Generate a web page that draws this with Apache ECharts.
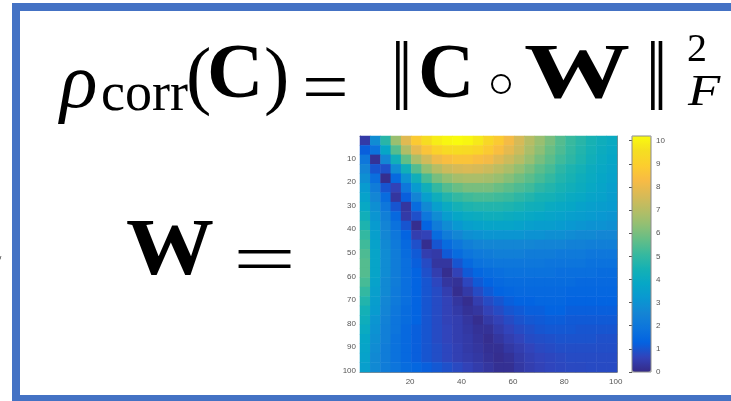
<!DOCTYPE html>
<html><head><meta charset="utf-8">
<script src="https://cdn.jsdelivr.net/npm/echarts@6/dist/echarts.min.js"></script>
<style>html,body{margin:0;padding:0;background:#fff}#c{width:731px;height:401px}</style>
</head><body><div id="c"></div>
<script>
// centres of the sampled cells (matrix index 1..100, 4 per cell)
const colCenters = [2.5,6.5,10.5,14.5,18.5,22.5,26.5,30.5,34.5,38.5,42.5,46.5,50.5,54.5,58.5,62.5,66.5,70.5,74.5,78.5,82.5,86.5,90.5,94.5,98.5];
const rowCenters = [2.5,6.5,10.5,14.5,18.5,22.5,26.5,30.5,34.5,38.5,42.5,46.5,50.5,54.5,58.5,62.5,66.5,70.5,74.5,78.5,82.5,86.5,90.5,94.5,98.5];
// values, one array per row band
const r01 = [0.4,2.8,4.8,6.5,7.8,8.8,9.5,9.9,10.1,10.2,10.1,9.8,9.3,8.8,8.2,7.6,7.0,6.5,6.0,5.5,5.1,4.8,4.5,4.2,4.0];
const r02 = [1.2,1.8,3.8,5.5,6.9,7.9,8.6,9.1,9.4,9.5,9.4,9.2,8.8,8.4,7.9,7.4,6.8,6.3,5.8,5.4,5.0,4.7,4.4,4.1,3.9];
const r03 = [2.0,0.2,2.6,4.3,5.7,6.8,7.5,8.1,8.4,8.6,8.6,8.4,8.2,7.8,7.4,7.0,6.5,6.0,5.6,5.2,4.9,4.6,4.3,4.0,3.8];
const r04 = [2.5,1.0,0.9,2.8,4.3,5.5,6.4,7.0,7.4,7.6,7.7,7.6,7.4,7.1,6.8,6.4,6.0,5.6,5.3,4.9,4.6,4.4,4.1,3.9,3.7];
const r05 = [2.9,1.7,0.1,1.5,3.0,4.3,5.3,6.0,6.4,6.7,6.8,6.8,6.7,6.5,6.2,5.9,5.6,5.3,5.0,4.7,4.5,4.2,4.0,3.8,3.6];
const r06 = [3.3,2.2,1.0,0.6,2.0,3.3,4.3,5.0,5.5,5.8,6.0,6.0,6.0,5.8,5.6,5.4,5.2,4.9,4.7,4.5,4.3,4.1,3.9,3.7,3.5];
const r07 = [3.6,2.6,1.6,0.3,1.2,2.5,3.5,4.2,4.7,5.0,5.2,5.3,5.3,5.2,5.1,4.9,4.7,4.5,4.4,4.2,4.0,3.9,3.7,3.6,3.4];
const r08 = [3.9,2.9,2.0,1.0,0.3,1.6,2.7,3.5,4.0,4.4,4.6,4.7,4.7,4.7,4.6,4.5,4.3,4.2,4.0,3.9,3.8,3.6,3.5,3.4,3.3];
const r09 = [4.3,3.1,2.3,1.5,0.4,0.9,2.0,2.8,3.4,3.8,4.0,4.1,4.2,4.2,4.1,4.0,3.9,3.8,3.7,3.6,3.5,3.4,3.3,3.2,3.1];
const r10 = [4.6,3.3,2.5,1.8,1.0,0.1,1.3,2.2,2.8,3.2,3.5,3.6,3.7,3.7,3.7,3.6,3.5,3.4,3.4,3.3,3.2,3.1,3.0,3.0,2.9];
const r11 = [5.0,3.5,2.6,2.0,1.3,0.5,0.6,1.6,2.2,2.6,2.9,3.0,3.1,3.1,3.1,3.1,3.0,3.0,2.9,2.9,2.8,2.7,2.7,2.6,2.6];
const r12 = [5.2,3.6,2.7,2.1,1.5,0.9,0.1,1.0,1.6,2.0,2.3,2.5,2.6,2.6,2.6,2.6,2.6,2.5,2.5,2.5,2.4,2.4,2.3,2.3,2.3];
const r13 = [5.4,3.7,2.8,2.2,1.6,1.1,0.5,0.4,1.1,1.6,1.9,2.1,2.2,2.3,2.3,2.3,2.2,2.2,2.2,2.1,2.1,2.1,2.0,2.0,2.0];
const r14 = [5.5,3.7,2.8,2.2,1.7,1.2,0.8,0.3,0.3,1.0,1.5,1.8,1.9,2.0,2.0,2.0,2.0,2.0,1.9,1.9,1.9,1.9,1.8,1.8,1.8];
const r15 = [5.5,3.7,2.8,2.2,1.7,1.3,0.9,0.5,0.1,0.6,1.1,1.4,1.6,1.7,1.8,1.8,1.8,1.8,1.8,1.7,1.7,1.7,1.7,1.6,1.6];
const r16 = [5.3,3.6,2.7,2.2,1.7,1.3,1.0,0.7,0.3,0.2,0.7,1.1,1.3,1.5,1.6,1.6,1.6,1.6,1.6,1.6,1.6,1.5,1.5,1.5,1.5];
const r17 = [5.0,3.5,2.7,2.1,1.7,1.3,1.0,0.8,0.5,0.1,0.4,0.8,1.1,1.3,1.4,1.5,1.5,1.5,1.5,1.5,1.4,1.4,1.4,1.4,1.4];
const r18 = [4.7,3.4,2.6,2.1,1.7,1.3,1.0,0.8,0.6,0.3,0.1,0.5,0.8,1.0,1.2,1.3,1.3,1.4,1.4,1.4,1.3,1.3,1.3,1.3,1.3];
const r19 = [4.4,3.3,2.5,2.0,1.6,1.3,1.0,0.8,0.6,0.4,0.2,0.3,0.6,0.8,1.0,1.1,1.2,1.2,1.3,1.3,1.2,1.2,1.2,1.2,1.2];
const r20 = [4.2,3.1,2.4,1.9,1.6,1.3,1.0,0.8,0.6,0.5,0.3,0.1,0.4,0.6,0.8,0.95,1.05,1.1,1.15,1.15,1.1,1.1,1.1,1.1,1.1];
const r21 = [4.0,3.0,2.3,1.9,1.5,1.2,1.0,0.8,0.65,0.5,0.35,0.2,0.2,0.45,0.65,0.8,0.9,1.0,1.05,1.05,1.05,1.0,1.0,1.0,1.0];
const r22 = [3.8,2.9,2.3,1.8,1.5,1.2,1.0,0.8,0.65,0.5,0.4,0.25,0.1,0.3,0.5,0.65,0.8,0.85,0.9,0.95,0.95,0.95,0.95,0.9,0.9];
const r23 = [3.7,2.8,2.2,1.8,1.5,1.2,1.0,0.85,0.7,0.55,0.4,0.3,0.15,0.15,0.35,0.5,0.65,0.75,0.8,0.85,0.85,0.85,0.85,0.85,0.85];
const r24 = [3.6,2.7,2.2,1.8,1.5,1.2,1.0,0.85,0.7,0.55,0.45,0.35,0.2,0.1,0.2,0.4,0.55,0.65,0.7,0.75,0.8,0.8,0.8,0.8,0.8];
const r25 = [3.5,2.7,2.2,1.9,1.6,1.4,1.2,1.05,0.9,0.75,0.6,0.45,0.3,0.15,0.15,0.35,0.5,0.6,0.68,0.72,0.75,0.76,0.78,0.78,0.78];
const xTicks = [20,40,60,80,100];
const yTicks = [10,20,30,40,50,60,70,80,90,100];
const cbTicks = [0,1,2,3,4,5,6,7,8,9,10];
const cbMin = 0, cbMax = 10.2;

const rows = [r01,r02,r03,r04,r05,r06,r07,r08,r09,r10,r11,r12,r13,r14,r15,r16,r17,r18,r19,r20,r21,r22,r23,r24,r25];
const data = [];
rows.forEach((row,i)=>row.forEach((v,j)=>data.push([j,i,v])));

const parula = ['#352a87','#3243ba','#0363e1','#0d75dc','#1485d4','#0998d1','#06a7c6','#15b1b4','#38b99e','#65be86','#92bf73','#b7bd64','#d9ba56','#f8bb44','#fcce2e','#f5de21','#f9fb0e'];
const axCol = '#8c8c8c', lblCol = '#555';
const lblFont = {fontSize:8, color:lblCol, fontFamily:'Liberation Sans, Arial, sans-serif'};
const serif = 'Liberation Serif, Times New Roman, serif';

const chart = echarts.init(document.getElementById('c'), null, {renderer:'canvas'});
function txt(x,y,s,font,el){
  return Object.assign({type:'text', x:x, y:y, style:{text:s, font:font, fill:'#000', textAlign:'left', textVerticalAlign:'middle'}}, el||{});
}
chart.setOption({
  animation:false,
  backgroundColor:'#fff',
  grid:[
    {left:360, top:136, width:257, height:236, show:false},
    {left:632, top:136, width:19, height:236, show:true, borderColor:axCol, borderWidth:1, backgroundColor:'transparent', z:10}
  ],
  xAxis:[
    {type:'category', gridIndex:0, data:colCenters, show:false},
    {type:'value', gridIndex:0, min:0.5, max:100.5, position:'bottom',
     axisLine:{lineStyle:{color:axCol}}, splitLine:{show:false},
     axisTick:{inside:true, length:3, lineStyle:{color:'#555'}, customValues:xTicks},
     axisLabel:Object.assign({margin:6, customValues:xTicks}, lblFont)},
    {type:'value', gridIndex:0, min:0.5, max:100.5, position:'top',
     axisLine:{lineStyle:{color:axCol}}, splitLine:{show:false},
     axisTick:{inside:true, length:3, lineStyle:{color:'#555'}, customValues:xTicks},
     axisLabel:{show:false}},
    {type:'value', gridIndex:1, show:false}
  ],
  yAxis:[
    {type:'category', gridIndex:0, data:rowCenters, inverse:true, show:false},
    {type:'value', gridIndex:0, min:0.5, max:100.5, inverse:true, position:'left',
     axisLine:{show:true, lineStyle:{color:axCol}}, splitLine:{show:false},
     axisTick:{show:true, inside:true, length:3, lineStyle:{color:'#555'}, customValues:yTicks},
     axisLabel:Object.assign({margin:4, customValues:yTicks}, lblFont)},
    {type:'value', gridIndex:0, min:0.5, max:100.5, inverse:true, position:'right',
     axisLine:{show:true, lineStyle:{color:axCol}}, splitLine:{show:false},
     axisTick:{show:true, inside:true, length:3, lineStyle:{color:'#555'}, customValues:yTicks},
     axisLabel:{show:false}},
    {type:'value', gridIndex:1, min:cbMin, max:cbMax, position:'right',
     axisLine:{show:false}, splitLine:{show:false},
     axisTick:{show:true, inside:true, length:3, lineStyle:{color:'#555'}, customValues:cbTicks},
     axisLabel:Object.assign({margin:5, customValues:cbTicks}, lblFont)}
  ],
  visualMap:{type:'continuous', min:cbMin, max:cbMax, seriesIndex:0, calculable:false,
    left:632, top:136, itemWidth:19, itemHeight:236, padding:0, inRange:{color:parula}},
  series:[{type:'heatmap', xAxisIndex:0, yAxisIndex:0, data:data, progressive:0,
    itemStyle:{borderWidth:0}, emphasis:{disabled:true}}],
  graphic:[
    {type:'rect', shape:{x:12, y:3, width:719, height:8}, style:{fill:'#4472c4'}},
    {type:'rect', shape:{x:12, y:3, width:8, height:398}, style:{fill:'#4472c4'}},
    {type:'rect', shape:{x:12, y:395, width:719, height:6}, style:{fill:'#4472c4'}},
    txt(-2,261,'/','12px '+serif),
    // formula line 1
    txt(60,86,'ρ','italic 78px '+serif),
    txt(101,96,'corr','54px '+serif),
    txt(186,80,'(','76px '+serif),
    txt(207,77,'C','bold 78px '+serif),
    txt(264,80,')','76px '+serif),
    txt(302,92,'=','72px '+serif, {scaleX:1.15}),
    txt(391,84,'‖','76px '+serif, {scaleY:1.3}),
    txt(418,77,'C','bold 78px '+serif),
    {type:'circle', shape:{cx:501, cy:84, r:9}, style:{fill:'none', stroke:'#000', lineWidth:2}},
    txt(524,77,'W','bold 78px '+serif, {scaleX:1.36}),
    txt(646,84,'‖','76px '+serif, {scaleY:1.3}),
    txt(687,50,'2','40px '+serif),
    txt(688,93,'F','italic 44px '+serif, {scaleX:1.2}),
    // W =
    txt(126,253,'W','bold 80px '+serif, {scaleX:1.1}),
    txt(233,264,'=','72px '+serif, {scaleX:1.55})
  ]
});
</script></body></html>
